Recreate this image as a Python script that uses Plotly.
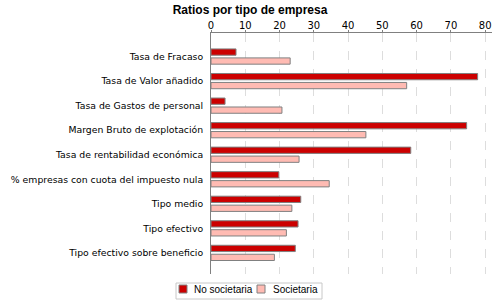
import plotly.graph_objects as go

categories = [
    "Tasa de Fracaso",
    "Tasa de Valor añadido",
    "Tasa de Gastos de personal",
    "Margen Bruto de explotación",
    "Tasa de rentabilidad económica",
    "% empresas con cuota del impuesto nula",
    "Tipo medio",
    "Tipo efectivo",
    "Tipo efectivo sobre beneficio",
]
no_societaria = [7.3, 77.8, 4.1, 74.6, 58.3, 19.8, 26.2, 25.4, 24.6]
societaria = [23.1, 57.1, 20.7, 45.2, 25.7, 34.5, 23.6, 22.0, 18.5]
series_names = ["No societaria", "Societaria"]
tick_vals = [0, 10, 20, 30, 40, 50, 60, 70, 80]

colors = ["#CC0000", "#FFBBB3"]
label_font = "DejaVu Sans, sans-serif"
legend_font = "Liberation Sans, Arial, sans-serif"

W, H = 500, 300
L, R, T, B = 211, 8, 33, 26


def px(x):
    # page pixel -> paper x
    return (x - L) / (W - L - R)


def py(y):
    # page pixel -> paper y
    return (H - B - y) / (H - T - B)


fig = go.Figure()
for name, vals, col in zip(series_names, [no_societaria, societaria], colors):
    fig.add_trace(go.Bar(
        y=categories, x=vals, orientation="h", name=name,
        marker=dict(color=col, line=dict(color="#808080", width=1)),
    ))

# legend drawn by hand (small square swatches in a thin box)
fig.add_shape(type="rect", xref="paper", yref="paper",
              x0=px(176), x1=px(322), y0=py(299), y1=py(283),
              line=dict(color="#C8C8C8", width=1), fillcolor="white")
swatch_x = [179, 257]
text_x = [192, 271]
for name, col, sx, tx in zip(series_names, colors, swatch_x, text_x):
    fig.add_shape(type="rect", xref="paper", yref="paper",
                  x0=px(sx), x1=px(sx + 8), y0=py(293), y1=py(285),
                  line=dict(color="#808080", width=1), fillcolor=col)
    fig.add_annotation(text=name, xref="paper", yref="paper",
                       x=px(tx), y=py(289), xanchor="left", yanchor="middle",
                       showarrow=False, font=dict(family=legend_font, size=10))

fig.update_layout(
    width=W, height=H,
    margin=dict(l=L, r=R, t=T, b=B, autoexpand=False),
    paper_bgcolor="white", plot_bgcolor="white",
    font=dict(family=label_font, size=9.3, color="black"),
    title=dict(text="<b>Ratios por tipo de empresa</b>", x=0.5, xref="container",
               xanchor="center", y=0.967, yanchor="middle",
               font=dict(family="Liberation Sans, Arial, sans-serif", size=12, color="black")),
    barmode="group", bargap=0.27, bargroupgap=0.3,
    showlegend=False,
    xaxis=dict(side="top", range=[0, 82], tickvals=tick_vals, showgrid=True,
               gridcolor="#DDDDDD", griddash="dash", gridwidth=1,
               showline=True, linecolor="#808080", ticks="outside", ticklen=2,
               tickcolor="#808080", zeroline=False, fixedrange=True,
               ticklabelstandoff=-3,
               tickfont=dict(family=label_font, size=10)),
    yaxis=dict(autorange=False, range=[8.86, -0.96], showline=True, linecolor="#808080",
               ticks="", ticklabelstandoff=5, showgrid=False, zeroline=False, fixedrange=True),
)

fig.write_html("out.html", config={"displayModeBar": False},
               post_script="document.body.style.margin='0';")
